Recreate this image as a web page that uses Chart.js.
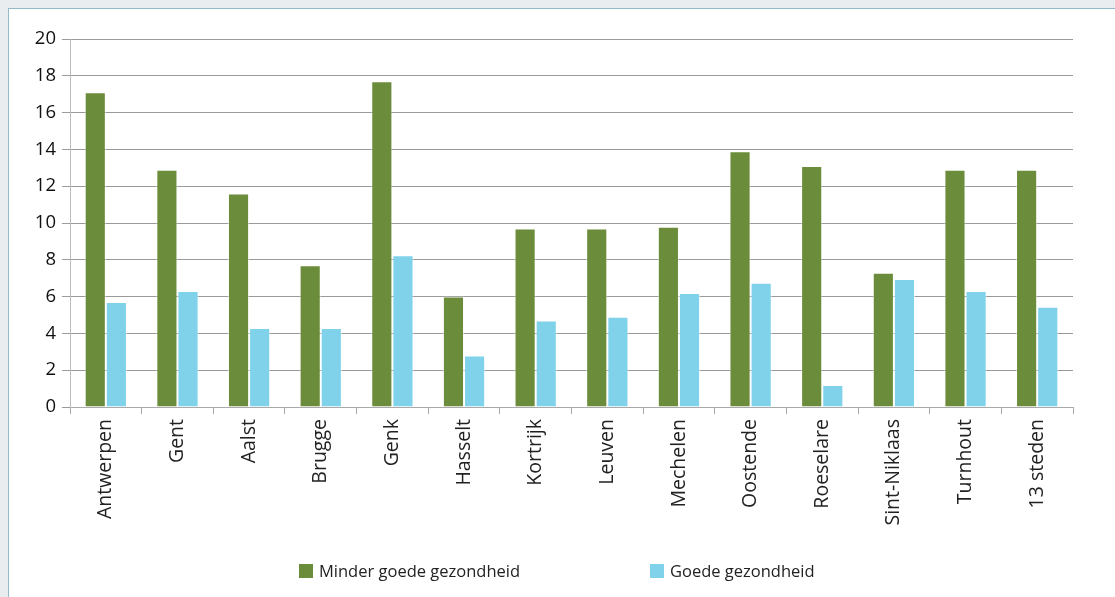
<!DOCTYPE html>
<html>
<head>
<meta charset="utf-8">
<script src="https://cdn.jsdelivr.net/npm/chart.js@4"></script>
<style>
  html, body { margin: 0; padding: 0; background: #e9edf0; }
  #wrap { position: relative; width: 1115px; height: 597px; overflow: hidden; }
  #panel { position: absolute; left: 8px; top: 8px; width: 1120px; height: 600px;
           background: #fff; border: 1px solid #93bccb; }
  #chart { position: absolute; left: 0; top: 0; }
  .legend { position: absolute; top: 559px; font-family: "Open Sans", sans-serif;
            font-size: 16.5px; color: #222; display: flex; align-items: center; }
  .legend span.box { display: inline-block; width: 14px; height: 14px; margin-right: 6px; }
</style>
</head>
<body>
<div id="wrap">
  <div id="panel"></div>
  <canvas id="chart" width="1115" height="597"></canvas>
  <div class="legend" style="left:299px"><span class="box" style="background:#6b8c3a"></span>Minder goede gezondheid</div>
  <div class="legend" style="left:650px"><span class="box" style="background:#7fd2ea"></span>Goede gezondheid</div>
</div>
<script>
// data
var cities = ["Antwerpen", "Gent", "Aalst", "Brugge", "Genk", "Hasselt", "Kortrijk",
  "Leuven", "Mechelen", "Oostende", "Roeselare", "Sint-Niklaas", "Turnhout", "13 steden"];
var minderGoede = [17.1, 12.9, 11.6, 7.7, 17.7, 6.0, 9.7, 9.7, 9.8, 13.9, 13.1, 7.3, 12.9, 12.9];
var goede = [5.7, 6.3, 4.3, 4.3, 8.25, 2.8, 4.7, 4.9, 6.2, 6.75, 1.2, 6.95, 6.3, 5.45];
var seriesNames = ["Minder goede gezondheid", "Goede gezondheid"];
var seriesColors = ["#6b8c3a", "#7fd2ea"];

var ctx = document.getElementById("chart").getContext("2d");
var myChart = new Chart(ctx, {
  type: "bar",
  data: {
    labels: cities,
    datasets: [
      { label: seriesNames[0], data: minderGoede, backgroundColor: seriesColors[0],
        borderColor: "rgba(255,255,255,0.55)", borderWidth: 1 },
      { label: seriesNames[1], data: goede, backgroundColor: seriesColors[1],
        borderColor: "rgba(255,255,255,0.55)", borderWidth: 1 }
    ]
  },
  options: {
    responsive: false,
    animation: false,
    categoryPercentage: 0.59,
    barPercentage: 1.0,
    layout: { padding: { left: 0, right: 42, top: 39, bottom: 0 } },
    plugins: { legend: { display: false }, tooltip: { enabled: false } },
    scales: {
      x: {
        grid: { drawOnChartArea: false, drawTicks: true, tickLength: 7, color: "#aaaaaa", offset: true },
        border: { color: "#aaaaaa" },
        ticks: { minRotation: 90, maxRotation: 90, padding: 5, color: "#222",
                 font: { family: "Open Sans", size: 19.5 } },
        afterFit: function (scale) { scale.height = 190; }
      },
      y: {
        min: 0, max: 20,
        ticks: { stepSize: 2, padding: 6, color: "#111",
                 font: { family: "Open Sans", size: 18.5 } },
        grid: { color: "#9a9a9a", tickLength: 8, lineWidth: 1 },
        border: { color: "#bbbbbb" },
        afterFit: function (scale) { scale.width = 70; }
      }
    }
  }
});
</script>
</body>
</html>
